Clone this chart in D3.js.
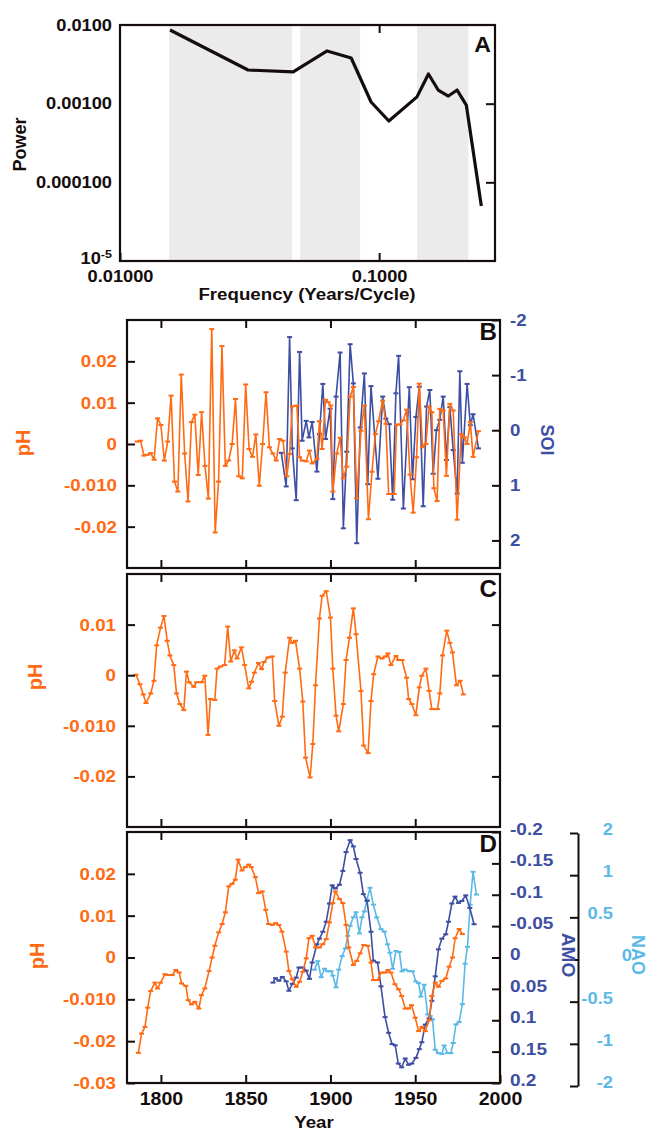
<!DOCTYPE html>
<html><head><meta charset="utf-8">
<script src="https://cdn.jsdelivr.net/npm/d3@7"></script>
<style>
body{margin:0;background:#fff}
</style></head><body>
<svg id="c" width="650" height="1133"></svg>
<script>
// ---------------- DATA ----------------
// Panel A: power spectrum
const powerFreq = [0.0156,0.0312,0.0466,0.0630,0.078,0.0931,0.109,0.140,0.155,0.169,0.185,0.200,0.217,0.248];
const powerVals = [0.00863,0.00268,0.00253,0.00468,0.00381,0.00105,0.000602,0.00122,0.00238,0.00149,0.00125,0.00149,0.00096,0.0000501];
const bandStart = [0.01545,0.0496,0.140];
const bandEnd   = [0.0461,0.0845,0.221];
const aYTicks = [1e-5,1e-4,1e-3,1e-2];
const aYLabels = ["10","0.000100","0.00100","0.0100"];
const aXTicks = [0.01,0.1];
const aXLabels = ["0.01000","0.1000"];

// Panel B: pH (year, value) and SOI (year, value)
const bPh = [[1786,0.0006],[1788,0.0008],[1790,-0.0028],[1792,-0.0026],[1794,-0.0022],[1796,-0.0038],[1798,0.0062],[1800,0.0046],[1802,-0.0040],[1804,0.0006],
[1806,0.0117],[1808,-0.0091],[1810,-0.0115],[1812,0.0168],[1814,-0.0023],[1816,-0.0139],[1818,0.0053],[1820,0.0071],[1822,-0.0075],[1824,0.0077],
[1826,-0.0053],[1828,-0.0132],[1830,0.0278],[1832,-0.0214],[1834,-0.0091],[1836,0.0237],[1838,-0.0053],[1840,-0.0040],[1842,0.0],[1844,0.0109],
[1846,-0.0078],[1848,-0.0083],[1850,0.0144],[1852,-0.0012],[1854,-0.0031],[1856,0.0023],[1858,-0.0101],[1860,0.0],[1862,0.0125],[1864,-0.0008],
[1866,-0.0023],[1868,-0.0040],[1870,0.0012],[1872,0.0008],
[1874.3,-0.0078],[1875.9,-0.0024],[1877.5,0.0091],[1880.2,0.0093],[1881.8,-0.0032],[1883.3,-0.0040],[1885.7,-0.0042],[1887.6,-0.0016],[1889.2,-0.0047],[1892.0,-0.0036],
[1893.5,0.0055],[1895.1,-0.0012],[1897.1,0.0107],[1898.6,0.0101],[1900.2,0.0093],[1901.4,-0.0115],[1903.7,-0.0023],[1905.7,0.0015],[1907.6,-0.0083],[1909.6,-0.0055],
[1911.6,0.0115],[1913.5,0.0138],[1915.5,-0.0131],[1918.0,0.0032],[1920.0,0.0093],[1922.4,-0.0182],[1924.5,-0.0067],[1926.5,0.0024],[1928.4,0.0055],[1930.8,0.0105],
[1932.7,0.0049],[1934.3,-0.0121],[1937.6,-0.0121],[1939.0,0.0047],[1941.0,0.0047],[1942.9,0.0057],[1944.9,0.0083],[1946.9,-0.0074],[1948.8,-0.0166],[1950.8,-0.0032],
[1952.4,0.0146],[1954.3,-0.0008],[1956.3,0.0],[1958.2,0.0091],[1959.8,0.0077],[1961.0,-0.0107],[1962.9,-0.0138],[1964.5,0.0085],[1966.5,0.0081],[1968.4,-0.0077],
[1970.4,0.0097],[1972.4,0.0081],[1974.7,-0.0183],[1977.1,0.0024],[1979.0,0.0016],[1980.6,0.0],[1982.5,0.0053],[1984.1,-0.0031],[1987.3,0.0031]];
const bSoi = [[1871.0,0.41],[1873.9,1.02],[1875.9,-1.69],[1877.5,0.33],[1879.8,1.27],[1881.8,-1.42],[1883.3,0.19],[1885.7,-0.17],[1887.3,0.13],[1889.2,-0.15],
[1892.0,0.75],[1893.5,0.07],[1895.5,-0.84],[1897.1,0.16],[1899.8,-0.39],[1901.4,1.25],[1903.3,-0.61],[1905.7,-1.41],[1907.6,1.78],[1909.6,0.39],
[1911.6,-1.56],[1913.5,-0.85],[1915.5,2.05],[1917.6,-0.05],[1920.0,-1.03],[1922.0,0.98],[1923.9,-0.80],[1928.0,0.88],[1930.8,-0.61],[1932.7,-0.21],
[1934.7,-0.11],[1936.7,1.26],[1938.6,-0.67],[1940.2,-1.35],[1943.0,1.42],[1946.5,-0.78],[1948.4,0.89],[1950.4,-0.24],[1952.4,-0.79],[1954.7,1.38],
[1956.7,-0.43],[1958.6,-0.73],[1960.6,0.79],[1962.5,0.0],[1964.5,-0.19],[1966.5,-0.61],[1968.4,0.54],[1970.4,-0.42],[1972.4,0.36],[1974.7,1.15],
[1976.3,-1.07],[1977.8,0.59],[1980.6,-0.84],[1982.5,-0.09],[1984.1,-0.29],[1987.3,0.33]];

// Panel C: filtered pH
const cPh = [[1785.3,0.0001],[1787.6,-0.0018],[1789.6,-0.0038],[1791.2,-0.0055],[1794.0,-0.0036],[1795.9,-0.0011],[1797.5,0.0059],[1799.8,0.0094],[1801.8,0.0117],[1803.7,0.0068],
[1805.3,0.0039],[1807.6,0.0020],[1809.2,-0.0036],[1811.2,-0.0057],[1813.5,-0.0069],[1815.1,0.0007],[1816.7,-0.0014],[1819.4,-0.0023],[1821.0,-0.0014],[1823.9,-0.0014],
[1825.9,-0.0001],[1827.8,-0.0118],[1829.2,-0.0047],[1831.8,-0.0049],[1833.1,0.0013],[1835.1,0.0017],[1837.6,0.0020],[1839.4,0.0096],[1841.2,0.0027],[1843.3,0.0049],
[1844.9,0.0033],[1847.5,0.0055],[1849.4,0.0020],[1851.8,-0.0026],[1853.5,-0.0013],[1855.1,0.0005],[1857.5,0.0024],[1859.4,0.0012],[1860.8,0.0026],[1863.1,0.0035],
[1865.7,0.0037],[1867.1,-0.0051],[1869.6,-0.0100],[1871.6,-0.0082],[1873.3,0.0005],[1875.9,0.0074],[1877.5,0.0064],[1879.4,0.0068],[1881.8,0.0013],[1883.7,-0.0052],
[1885.3,-0.0163],[1888.0,-0.0202],[1889.6,-0.0136],[1891.2,-0.0020],[1893.5,0.0112],[1895.1,0.0157],[1897.5,0.0166],[1900.0,0.0114],[1901.4,0.0013],[1903.3,-0.0080],
[1904.9,-0.0111],[1907.6,-0.0057],[1909.2,0.0030],[1911.2,0.0074],[1913.5,0.0132],[1915.1,0.0081],[1918.0,-0.0031],[1919.6,-0.0139],[1922.2,-0.0154],[1923.9,-0.0051],
[1925.5,0.0002],[1928.0,0.0037],[1930.4,0.0033],[1932.4,0.0037],[1933.9,0.0043],[1935.7,0.0020],[1938.6,0.0038],[1940.2,0.0030],[1942.2,0.0030],[1944.9,-0.0005],
[1946.1,-0.0047],[1948.0,-0.0057],[1950.4,-0.0079],[1952.4,-0.0024],[1953.9,-0.0001],[1956.3,0.0013],[1958.2,-0.0031],[1959.8,-0.0067],[1963.1,-0.0067],[1964.5,-0.0036],
[1966.1,0.0039],[1968.6,0.0088],[1970.4,0.0064],[1972.0,0.0045],[1974.3,-0.0020],[1976.5,-0.0011],[1978.4,-0.0038]];

// Panel D: smoothed pH, AMO, NAO
const dPh = [[1786.7,-0.0228],[1788.6,-0.0182],[1790.6,-0.0166],[1792.2,-0.0120],[1794.0,-0.0080],[1796.5,-0.0060],[1798.0,-0.0074],[1799.8,-0.0060],[1802.4,-0.0040],[1804.3,-0.0042],
[1806.7,-0.0042],[1808.8,-0.0030],[1810.8,-0.0036],[1812.2,-0.0062],[1814.7,-0.0068],[1816.1,-0.0102],[1818.0,-0.0112],[1820.0,-0.0106],[1822.4,-0.0122],[1823.9,-0.0090],
[1825.9,-0.0074],[1828.4,-0.0032],[1830.2,0.0],[1831.8,0.0028],[1834.1,0.0060],[1836.1,0.0080],[1838.0,0.0108],[1840.0,0.0170],[1841.9,0.0176],[1843.9,0.0186],
[1845.5,0.0234],[1847.8,0.0208],[1849.8,0.0216],[1851.8,0.0222],[1853.3,0.0216],[1855.7,0.0192],[1857.6,0.0154],[1859.8,0.0158],[1861.8,0.0114],[1863.5,0.0080],
[1865.7,0.0078],[1867.6,0.0082],[1869.6,0.0078],[1871.4,0.0062],[1873.9,0.0014],[1875.5,-0.0032],[1877.5,-0.0052],[1879.8,-0.0070],[1881.8,-0.0058],[1883.7,-0.0034],
[1885.7,-0.0002],[1887.3,0.0046],[1889.2,0.0052],[1891.2,0.0024],[1893.5,0.0024],[1895.5,0.0032],[1897.5,0.0044],[1899.4,0.0084],[1901.4,0.0130],[1902.9,0.0158],
[1905.3,0.0140],[1907.3,0.0130],[1909.2,0.0078],[1910.8,0.0024],[1913.5,-0.0018],[1915.5,-0.0008],[1917.5,0.0010],[1919.6,0.0030],[1922.0,0.0028],[1923.9,-0.0012],
[1925.3,-0.0054],[1927.8,-0.0054],[1929.8,-0.0036],[1932.4,-0.0036],[1933.9,-0.0030],[1935.7,-0.0036],[1938.0,-0.0064],[1940.2,-0.0076],[1942.0,-0.0092],[1944.1,-0.0122],
[1946.1,-0.0122],[1947.8,-0.0114],[1950.0,-0.0144],[1952.0,-0.0176],[1954.0,-0.0166],[1955.9,-0.0176],[1958.2,-0.0150],[1959.8,-0.0092],[1961.8,-0.0060],[1963.7,-0.0070],
[1965.7,-0.0056],[1968.0,-0.0050],[1970.0,-0.0022],[1972.0,0.0],[1973.5,0.0046],[1975.9,0.0068],[1977.8,0.0056]];
const dAmo = [[1866.1,0.040],[1867.6,0.033],[1869.6,0.037],[1871.6,0.031],[1873.9,0.038],[1875.5,0.053],[1877.5,0.042],[1879.8,0.032],[1881.4,0.016],[1883.7,0.016],
[1885.7,0.021],[1887.6,0.034],[1889.2,0.008],[1892.0,-0.021],[1893.5,-0.030],[1895.5,-0.041],[1897.5,-0.057],[1899.4,-0.086],[1901.0,-0.115],[1902.9,-0.110],
[1905.3,-0.116],[1907.3,-0.138],[1909.2,-0.168],[1911.6,-0.187],[1913.5,-0.177],[1915.1,-0.157],[1917.5,-0.135],[1919.4,-0.101],[1921.6,-0.090],[1923.9,-0.041],
[1925.3,0.005],[1927.8,0.008],[1929.8,0.046],[1932.2,0.095],[1934.3,0.120],[1936.3,0.138],[1938.2,0.140],[1940.0,0.169],[1942.0,0.175],[1944.1,0.161],
[1946.1,0.171],[1948.0,0.169],[1950.4,0.160],[1952.4,0.146],[1953.9,0.135],[1955.9,0.107],[1958.2,0.097],[1959.8,0.069],[1961.8,0.030],[1963.7,-0.013],
[1965.7,-0.030],[1968.0,-0.037],[1969.6,-0.057],[1971.6,-0.086],[1973.5,-0.097],[1975.5,-0.087],[1977.5,-0.090],[1979.8,-0.099],[1982.2,-0.079],[1984.7,-0.053]];
const dNao = [[1890.6,-0.12],[1892.5,-0.02],[1894.5,-0.21],[1896.5,-0.11],[1898.4,-0.14],[1900.4,-0.14],[1901.4,-0.19],[1903.3,-0.33],[1904.9,-0.12],[1906.9,0.04],
[1908.8,0.13],[1910.2,0.28],[1911.6,0.40],[1913.5,0.50],[1915.1,0.56],[1917.1,0.31],[1918.6,0.50],[1920.0,0.57],[1921.6,0.71],[1923.3,0.85],
[1925.3,0.65],[1927.3,0.50],[1929.8,0.36],[1931.8,0.33],[1933.7,0.18],[1935.1,0.08],[1936.7,-0.11],[1938.6,0.10],[1940.6,0.09],[1942.2,-0.14],
[1944.1,-0.12],[1946.5,-0.14],[1948.4,-0.14],[1950.4,-0.26],[1952.0,-0.28],[1953.3,-0.44],[1955.3,-0.30],[1957.3,-0.65],[1958.8,-0.67],[1960.2,-0.71],
[1961.8,-1.07],[1963.7,-1.11],[1965.7,-1.12],[1967.1,-1.02],[1969.0,-1.11],[1971.0,-1.11],[1972.4,-0.99],[1974.0,-0.77],[1975.9,-0.74],[1977.8,-0.53],
[1979.4,-0.05],[1980.8,0.15],[1982.4,0.65],[1984.1,1.04],[1986.1,0.77]];

// tick values / labels
const yearTicks = [1800,1850,1900,1950];
const yearLabelTicks = [1800,1850,1900,1950,2000];
const bPhTicks = [-0.02,-0.01,0,0.01,0.02];
const bPhLabels = ["-0.02","-0.010","0","0.01","0.02"];
const soiTicks = [-2,-1,0,1,2];
const soiLabels = ["-2","-1","0","1","2"];
const cPhTicks = [-0.02,-0.01,0,0.01];
const cPhLabels = ["-0.02","-0.010","0","0.01"];
const dPhTicks = [-0.03,-0.02,-0.01,0,0.01,0.02];
const dPhLabels = ["-0.03","-0.02","-0.010","0","0.01","0.02"];
const amoTicks = [-0.2,-0.15,-0.1,-0.05,0,0.05,0.1,0.15,0.2];
const amoLabels = ["-0.2","-0.15","-0.1","-0.05","0","0.05","0.1","0.15","0.2"];
const naoTicks = [-1.5,-1,-0.5,0,0.5,1,1.5];
const naoLabels = ["-2","-1","-0.5","0","0.5","1","2"];

// ---------------- DRAW ----------------
const FONT = '"Liberation Sans", Arial, Helvetica, sans-serif';
const ORANGE = "#ff6a13", BLUE = "#3d4ea3", LBLUE = "#5bb9e6", INK = "#150d0d";
const svg = d3.select("#c");

function stretch(sel, sx) {
  sel.each(function () {
    const t = d3.select(this);
    const x = +t.attr("x") || 0;
    t.attr("transform", `translate(${x},0) scale(${sx},1) translate(${-x},0)`);
  });
}
function styleAxis(g, color, size, sx) {
  g.attr("font-family", FONT).attr("font-size", size).attr("font-weight", "bold").attr("color", color);
  g.selectAll(".tick line").attr("stroke", INK).attr("stroke-width", 2);
  if (sx) stretch(g.selectAll(".tick text"), sx);
}
function text(x, y, str, opts) {
  const t = svg.append("text").attr("font-family", FONT).attr("font-weight", "bold")
    .attr("font-size", opts.size).attr("fill", opts.color || INK)
    .attr("text-anchor", opts.anchor || "middle").text(str);
  if (opts.rot) t.attr("transform", `translate(${x},${y}) rotate(${opts.rot})`);
  else { t.attr("x", x).attr("y", y); if (opts.sx) stretch(t, opts.sx); }
  return t;
}
function frame(x0, y0, x1, y1) {
  svg.append("rect").attr("x", x0).attr("y", y0).attr("width", x1 - x0).attr("height", y1 - y0)
    .attr("fill", "none").attr("stroke", INK).attr("stroke-width", 2.2);
}
function series(data, xs, ys, color, w) {
  const g = svg.append("g");
  const line = d3.line().x(d => xs(d[0])).y(d => ys(d[1]));
  g.append("path").datum(data).attr("d", line).attr("fill", "none")
    .attr("stroke", color).attr("stroke-width", w).attr("stroke-linejoin", "round");
  g.selectAll("line").data(data).join("line")
    .attr("x1", d => xs(d[0]) - 2.5).attr("x2", d => xs(d[0]) + 2.5)
    .attr("y1", d => ys(d[1])).attr("y2", d => ys(d[1]))
    .attr("stroke", color).attr("stroke-width", 2);
}

// ===== Panel A =====
const A = {l: 120, r: 495, t: 25, b: 261};
const xA = d3.scaleLog().domain([0.01, 0.28]).range([A.l, A.r]);
const yA = d3.scaleLog().domain([1e-5, 1e-2]).range([A.b, A.t]);
svg.append("g").selectAll("rect").data(bandStart).join("rect")
  .attr("x", (d) => xA(d)).attr("width", (d, i) => xA(bandEnd[i]) - xA(d))
  .attr("y", A.t).attr("height", A.b - A.t).attr("fill", "#ebebeb");
svg.append("path").datum(powerFreq.map((f, i) => [f, powerVals[i]]))
  .attr("d", d3.line().x(d => xA(d[0])).y(d => yA(d[1])))
  .attr("fill", "none").attr("stroke", INK).attr("stroke-width", 3.2).attr("stroke-linejoin", "round");
{
  const gl = svg.append("g").attr("transform", `translate(${A.l},0)`)
    .call(d3.axisLeft(yA).tickValues(aYTicks).tickFormat((d, i) => aYLabels[i]).tickSize(0).tickPadding(8));
  gl.select(".domain").remove();
  styleAxis(gl, INK, 16, 1.14);
  gl.selectAll(".tick text").filter(d => d === 1e-5).each(function () {
    const t = d3.select(this); t.text("10").attr("y", -3);
    t.append("tspan").attr("dy", "-0.55em").attr("font-size", 11).text("-5");
  });
  const gr = svg.append("g").attr("transform", `translate(${A.r},0)`)
    .call(d3.axisRight(yA).tickValues([1e-4, 1e-3]).tickFormat("").tickSizeInner(-9).tickSizeOuter(0));
  gr.select(".domain").remove(); styleAxis(gr, INK, 16);
  const gb = svg.append("g").attr("transform", `translate(0,${A.b})`)
    .call(d3.axisBottom(xA).tickValues(aXTicks).tickFormat((d, i) => aXLabels[i]).tickSizeInner(-8).tickSizeOuter(0).tickPadding(10));
  gb.select(".domain").remove(); styleAxis(gb, INK, 16, 1.14);
  const gt = svg.append("g").attr("transform", `translate(0,${A.t})`)
    .call(d3.axisTop(xA).tickValues([0.1]).tickFormat("").tickSizeInner(-8).tickSizeOuter(0));
  gt.select(".domain").remove(); styleAxis(gt, INK, 16);
}
frame(A.l, A.t, A.r, A.b);
text(307, 300, "Frequency (Years/Cycle)", {size: 17, sx: 1.1});
text(26, 144.5, "Power", {size: 18, rot: -90});
text(491, 52, "A", {size: 22, anchor: "end", sx: 1.05});

// shared year scale
const x = d3.scaleLinear().domain([1780, 2000]).range([127, 500]);
function yearTicksOn(y0, y1) {
  const gt = svg.append("g").attr("transform", `translate(0,${y0})`)
    .call(d3.axisTop(x).tickValues(yearTicks).tickFormat("").tickSizeInner(-8).tickSizeOuter(0));
  gt.select(".domain").remove(); styleAxis(gt, INK, 17);
  const gb = svg.append("g").attr("transform", `translate(0,${y1})`)
    .call(d3.axisBottom(x).tickValues(yearTicks).tickFormat("").tickSizeInner(-8).tickSizeOuter(0));
  gb.select(".domain").remove(); styleAxis(gb, INK, 17);
}

// ===== Panel B =====
const B = {t: 320, b: 568};
const yB = d3.scaleLinear().domain([-0.03, 0.03]).range([B.b, B.t]);
const ySoi = d3.scaleLinear().domain([-2, 2.5]).range([B.t, B.b]);
series(bSoi, x, ySoi, BLUE, 1.6);
series(bPh, x, yB, ORANGE, 1.6);
{
  const gl = svg.append("g").attr("transform", `translate(127,0)`)
    .call(d3.axisLeft(yB).tickValues(bPhTicks).tickFormat((d, i) => bPhLabels[i]).tickSizeInner(-8).tickSizeOuter(0).tickPadding(10));
  gl.select(".domain").remove(); styleAxis(gl, ORANGE, 17, 1.1);
  const gr = svg.append("g").attr("transform", `translate(500,0)`)
    .call(d3.axisRight(ySoi).tickValues(soiTicks).tickFormat((d, i) => soiLabels[i]).tickSizeInner(-8).tickSizeOuter(0).tickPadding(10));
  gr.select(".domain").remove(); styleAxis(gr, BLUE, 17, 1.1);
  yearTicksOn(B.t, B.b);
}
frame(127, B.t, 500, B.b);
text(30, 443, "pH", {size: 20, rot: -90, color: ORANGE});
text(541, 440, "SOI", {size: 18, rot: 90, color: BLUE});
text(497, 340, "B", {size: 23, anchor: "end", sx: 1.05});

// ===== Panel C =====
const C = {t: 574, b: 827};
const yC = d3.scaleLinear().domain([-0.03, 0.02]).range([C.b, C.t]);
series(cPh, x, yC, ORANGE, 1.6);
{
  const gl = svg.append("g").attr("transform", `translate(127,0)`)
    .call(d3.axisLeft(yC).tickValues(cPhTicks).tickFormat((d, i) => cPhLabels[i]).tickSizeInner(-8).tickSizeOuter(0).tickPadding(11));
  gl.select(".domain").remove(); styleAxis(gl, ORANGE, 17, 1.1);
  const gr = svg.append("g").attr("transform", `translate(500,0)`)
    .call(d3.axisRight(yC).tickValues(cPhTicks).tickFormat("").tickSizeInner(-8).tickSizeOuter(0));
  gr.select(".domain").remove(); styleAxis(gr, ORANGE, 17);
  yearTicksOn(C.t, C.b);
}
frame(127, C.t, 500, C.b);
text(42, 677, "pH", {size: 20, rot: -90, color: ORANGE});
text(497, 597, "C", {size: 23, anchor: "end", sx: 1.05});

// ===== Panel D =====
const D = {t: 832, b: 1083};
const yD = d3.scaleLinear().domain([-0.03, 0.03]).range([D.b, D.t]);
const yAmo = d3.scaleLinear().domain([-0.2, 0.2]).range([D.t, D.b]);
const yNao = d3.scaleLinear().domain([-1.5, 1.5]).range([1086, 833]);
series(dNao, x, yNao, LBLUE, 1.6);
series(dAmo, x, yAmo, BLUE, 1.6);
series(dPh, x, yD, ORANGE, 1.6);
{
  const gl = svg.append("g").attr("transform", `translate(127,0)`)
    .call(d3.axisLeft(yD).tickValues(dPhTicks).tickFormat((d, i) => dPhLabels[i]).tickSizeInner(-8).tickSizeOuter(0).tickPadding(11));
  gl.select(".domain").remove(); styleAxis(gl, ORANGE, 17, 1.1);
  const gr = svg.append("g").attr("transform", `translate(500,0)`)
    .call(d3.axisRight(yAmo).tickValues(amoTicks).tickFormat((d, i) => amoLabels[i]).tickSizeInner(-8).tickSizeOuter(0).tickPadding(10));
  gr.select(".domain").remove(); styleAxis(gr, BLUE, 17, 1.12);
  gr.selectAll(".tick text").attr("y", -3);
  const gn = svg.append("g").attr("transform", `translate(578,0)`)
    .call(d3.axisRight(yNao).tickValues(naoTicks).tickFormat((d, i) => naoLabels[i]).tickSizeInner(-8).tickSizeOuter(0));
  gn.select(".domain").attr("stroke", INK).attr("stroke-width", 2);
  gn.selectAll(".tick text").attr("text-anchor", "end").attr("x", d => d === 0 ? 54 : 35).attr("y", -4);
  styleAxis(gn, LBLUE, 17, 1.08);
  const gt = svg.append("g").attr("transform", `translate(0,${D.t})`)
    .call(d3.axisTop(x).tickValues(yearTicks).tickFormat("").tickSizeInner(-8).tickSizeOuter(0));
  gt.select(".domain").remove(); styleAxis(gt, INK, 17);
  const gb = svg.append("g").attr("transform", `translate(0,${D.b})`)
    .call(d3.axisBottom(x).tickValues(yearLabelTicks).tickFormat(d => String(d)).tickSizeInner(-8).tickSizeOuter(0).tickPadding(10));
  gb.select(".domain").remove(); styleAxis(gb, INK, 17.5, 1.12);
}
frame(127, D.t, 500, D.b);
text(44, 956, "pH", {size: 20, rot: -90, color: ORANGE});
text(562, 955, "AMO", {size: 19, rot: 90, color: BLUE});
text(632, 955, "NAO", {size: 18, rot: 90, color: LBLUE});
text(497, 852, "D", {size: 23, anchor: "end", sx: 1.05});
text(314, 1128, "Year", {size: 17, sx: 1.1});
</script>
</body></html>
